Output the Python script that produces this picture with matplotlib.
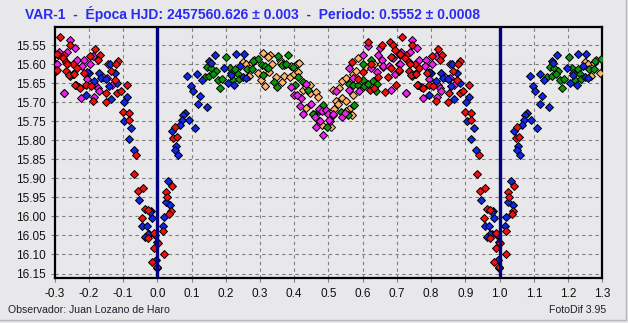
import numpy as np
import matplotlib
matplotlib.use("Agg")
import matplotlib.pyplot as plt
from matplotlib.lines import Line2D

# phase (0..1) and magnitude for each night
blue_phase = [0.169, 0.230, 0.252, 0.152, 0.157, 0.088, 0.117, 0.131, 0.098, 0.104,
              0.125, 0.119, 0.145, 0.081, 0.075, 0.071, 0.093, 0.066, 0.110, 0.043,
              0.055, 0.051, 0.061, 0.032, 0.026, 0.038, 0.020, 0.982, 0.985, 0.017,
              0.993, 0.977, 0.998, 0.996, 0.196, 0.207, 0.214, 0.225, 0.243, 0.249,
              0.259, 0.800, 0.829, 0.836, 0.849, 0.858, 0.883, 0.875, 0.866, 0.910,
              0.902, 0.904, 0.924, 0.917, 0.932, 0.946, 0.978, 0.956, 0.969, 0.972,
              0.963, 0.998, 0.793, 0.795, 0.815, 0.862]
blue_mag = [15.575, 15.573, 15.573, 15.592, 15.596, 15.632, 15.627, 15.643, 15.658, 15.672,
            15.684, 15.706, 15.713, 15.729, 15.734, 15.747, 15.748, 15.761, 15.769, 15.775,
            15.816, 15.825, 15.839, 15.908, 15.963, 15.969, 16.001, 15.987, 16.003, 16.024,
            16.050, 16.046, 16.066, 16.115, 15.610, 15.649, 15.630, 15.654, 15.605, 15.634,
            15.636, 15.623, 15.624, 15.636, 15.640, 15.658, 15.650, 15.623, 15.691, 15.687,
            15.699, 15.750, 15.769, 15.798, 15.825, 15.958, 15.989, 16.026, 16.024, 16.046,
            16.055, 16.136, 15.682, 15.621, 15.645, 15.599]

red_phase = [0.052, 0.047, 0.057, 0.043, 0.025, 0.028, 0.040, 0.035, 0.018, 0.991,
             0.001, 0.990, 0.020, 0.985, 0.998, 0.615, 0.657, 0.680, 0.688, 0.715,
             0.745, 0.693, 0.683, 0.709, 0.726, 0.725, 0.569, 0.624, 0.683, 0.705,
             0.734, 0.754, 0.600, 0.644, 0.673, 0.745, 0.754, 0.734, 0.698, 0.664,
             0.761, 0.771, 0.585, 0.620, 0.634, 0.819, 0.832, 0.803, 0.826, 0.885,
             0.878, 0.865, 0.766, 0.787, 0.793, 0.805, 0.813, 0.849, 0.883, 0.893,
             0.912, 0.875, 0.851, 0.899, 0.917, 0.917, 0.939, 0.933, 0.943, 0.958,
             0.963, 0.972, 0.954, 0.972, 0.708, 0.706, 0.737, 0.742, 0.756, 0.760,
             0.775]
red_mag = [15.766, 15.794, 15.792, 15.921, 15.936, 15.948, 15.987, 15.994, 16.038, 16.043,
           16.070, 16.082, 16.099, 16.120, 16.134, 15.541, 15.550, 15.541, 15.550, 15.529,
           15.550, 15.564, 15.582, 15.576, 15.576, 15.585, 15.594, 15.599, 15.610, 15.617,
           15.594, 15.599, 15.620, 15.634, 15.634, 15.632, 15.625, 15.617, 15.654, 15.674,
           15.654, 15.660, 15.638, 15.668, 15.662, 15.561, 15.575, 15.579, 15.590, 15.592,
           15.601, 15.617, 15.610, 15.623, 15.654, 15.658, 15.696, 15.700, 15.676, 15.671,
           15.656, 15.641, 15.677, 15.726, 15.729, 15.748, 15.838, 15.888, 15.934, 15.925,
           15.980, 15.983, 16.004, 16.057, 15.574, 15.616, 15.600, 15.630, 15.625, 15.655,
           15.662]

green_phase = [0.202, 0.146, 0.158, 0.172, 0.139, 0.152, 0.164, 0.176, 0.189, 0.183,
               0.211, 0.215, 0.228, 0.235, 0.220, 0.238, 0.383, 0.352, 0.295, 0.279,
               0.261, 0.277, 0.306, 0.316, 0.323, 0.310, 0.364, 0.376, 0.397, 0.340,
               0.351, 0.410, 0.402, 0.427, 0.439, 0.454, 0.473, 0.485, 0.495, 0.466,
               0.624, 0.600, 0.559, 0.571, 0.585, 0.600, 0.605, 0.617, 0.629, 0.642,
               0.639, 0.576, 0.537, 0.556]
green_mag = [15.582, 15.608, 15.610, 15.617, 15.634, 15.632, 15.627, 15.641, 15.639, 15.663,
             15.610, 15.623, 15.614, 15.627, 15.641, 15.640, 15.577, 15.580, 15.586, 15.592,
             15.612, 15.613, 15.602, 15.604, 15.609, 15.629, 15.603, 15.599, 15.608, 15.646,
             15.659, 15.634, 15.654, 15.646, 15.669, 15.732, 15.724, 15.708, 15.766, 15.743,
             15.588, 15.599, 15.653, 15.654, 15.654, 15.643, 15.658, 15.652, 15.645, 15.652,
             15.671, 15.708, 15.725, 15.734]

orange_phase = [0.310, 0.329, 0.322, 0.283, 0.249, 0.259, 0.277, 0.334, 0.357, 0.362,
                0.371, 0.391, 0.407, 0.415, 0.268, 0.293, 0.325, 0.303, 0.316, 0.347,
                0.364, 0.371, 0.387, 0.398, 0.412, 0.425, 0.435, 0.447, 0.445, 0.464,
                0.470, 0.435, 0.456, 0.481, 0.508, 0.512, 0.532, 0.522, 0.517, 0.529,
                0.541, 0.552, 0.568, 0.561, 0.551, 0.541, 0.551, 0.571, 0.586, 0.581,
                0.600, 0.610, 0.634, 0.654, 0.659, 0.573]
orange_mag = [15.571, 15.576, 15.582, 15.588, 15.594, 15.599, 15.597, 15.601, 15.590, 15.596,
              15.603, 15.604, 15.599, 15.596, 15.632, 15.624, 15.620, 15.643, 15.658, 15.634,
              15.647, 15.632, 15.634, 15.627, 15.620, 15.668, 15.661, 15.654, 15.675, 15.674,
              15.687, 15.715, 15.731, 15.761, 15.766, 15.669, 15.664, 15.696, 15.719, 15.706,
              15.690, 15.696, 15.734, 15.717, 15.722, 15.645, 15.636, 15.627, 15.583, 15.618,
              15.660, 15.607, 15.601, 15.601, 15.608, 15.682]

magenta_phase = [0.391, 0.400, 0.420, 0.408, 0.417, 0.426, 0.448, 0.462, 0.475, 0.471,
                 0.480, 0.493, 0.500, 0.513, 0.505, 0.464, 0.485, 0.433, 0.522, 0.503,
                 0.512, 0.541, 0.549, 0.615, 0.652, 0.745, 0.759, 0.737, 0.713, 0.644,
                 0.688, 0.657, 0.602, 0.624, 0.660, 0.676, 0.705, 0.766, 0.559, 0.571,
                 0.641, 0.695, 0.683, 0.727, 0.776, 0.588, 0.561, 0.785, 0.781, 0.803,
                 0.813, 0.856, 0.795, 0.819, 0.826, 0.842, 0.854, 0.868, 0.829, 0.816,
                 0.708, 0.728]
magenta_mag = [15.659, 15.682, 15.689, 15.680, 15.709, 15.731, 15.705, 15.739, 15.750, 15.717,
               15.722, 15.720, 15.732, 15.734, 15.750, 15.766, 15.785, 15.652, 15.671, 15.746,
               15.732, 15.739, 15.728, 15.553, 15.559, 15.536, 15.559, 15.569, 15.567, 15.576,
               15.583, 15.588, 15.576, 15.610, 15.605, 15.605, 15.599, 15.588, 15.610, 15.636,
               15.620, 15.627, 15.667, 15.677, 15.689, 15.671, 15.667, 15.588, 15.605, 15.599,
               15.579, 15.601, 15.640, 15.654, 15.662, 15.634, 15.636, 15.654, 15.671, 15.687,
               15.600, 15.675]

series = [
    (orange_phase, orange_mag, '#ffb469'),
    (green_phase, green_mag, '#0a960a'),
    (magenta_phase, magenta_mag, '#f020f0'),
    (blue_phase, blue_mag, '#1028e6'),
    (red_phase, red_mag, '#f01010'),
]

title = u"VAR-1  -  \u00c9poca HJD: 2457560.626 \u00b1 0.003  -  Periodo: 0.5552 \u00b1 0.0008"
observer = "Observador: Juan Lozano de Haro"
version = "FotoDif 3.95"

bg = '#e8e8ea'
plt.rcParams['font.family'] = ['Liberation Sans', 'DejaVu Sans']

fig = plt.figure(figsize=(6.28, 3.23), dpi=100, facecolor=bg)
ax = fig.add_axes([0.087, 0.139, 0.872, 0.777])
ax.set_facecolor(bg)

xmin, xmax = -0.3, 1.3
for ph, mg, col in series:
    ph = np.array(ph) % 1.0
    mg = np.array(mg)
    for shift in (-1, 0, 1):
        p = ph + shift
        keep = (p >= xmin) & (p <= xmax)
        ax.plot(p[keep], mg[keep], linestyle='none', marker='D', markersize=4.2,
                markerfacecolor=col, markeredgecolor='black', markeredgewidth=0.7,
                zorder=3)

ax.axvline(0.0, color='#000080', linewidth=2.4, zorder=4)
ax.axvline(1.0, color='#000080', linewidth=2.4, zorder=4)

ax.set_xlim(xmin, xmax)
ax.set_ylim(16.162, 15.503)
ax.set_xticks(np.round(np.arange(-0.3, 1.31, 0.1), 1))
ax.set_xticklabels(['%.1f' % v for v in np.arange(-0.3, 1.31, 0.1)])
ax.set_yticks(np.round(np.arange(15.55, 16.151, 0.05), 2))
ax.set_yticklabels(['%.2f' % v for v in np.arange(15.55, 16.151, 0.05)])
ax.grid(True, color='#808080', linestyle=(0, (3, 3)), linewidth=0.8)
ax.set_axisbelow(True)
ax.tick_params(axis='both', labelsize=8.5, length=3, color='#808080', labelcolor='#101010')
ax.tick_params(axis='x', pad=4)
for s in ax.spines.values():
    s.set_linewidth(1.6)
    s.set_color('black')

fig.text(25 / 628, 1 - 14 / 323, title, color='#2a2af0', fontsize=10,
         fontweight='bold', ha='left', va='center')
fig.text(8 / 628, 1 - 310 / 323, observer, color='#202030', fontsize=7.6,
         ha='left', va='center')
fig.text(606 / 628, 1 - 310 / 323, version, color='#202030', fontsize=7.6,
         ha='right', va='center')

# window frame lines at right and bottom
fig.add_artist(Line2D([626 / 628, 626 / 628], [1 - 320 / 323, 1.0],
                      transform=fig.transFigure, color='#b8b8b8', linewidth=1))
fig.add_artist(Line2D([0, 626 / 628], [1 - 320 / 323, 1 - 320 / 323],
                      transform=fig.transFigure, color='#b8b8b8', linewidth=1))

fig.savefig('out.png', dpi=100, facecolor=bg)
